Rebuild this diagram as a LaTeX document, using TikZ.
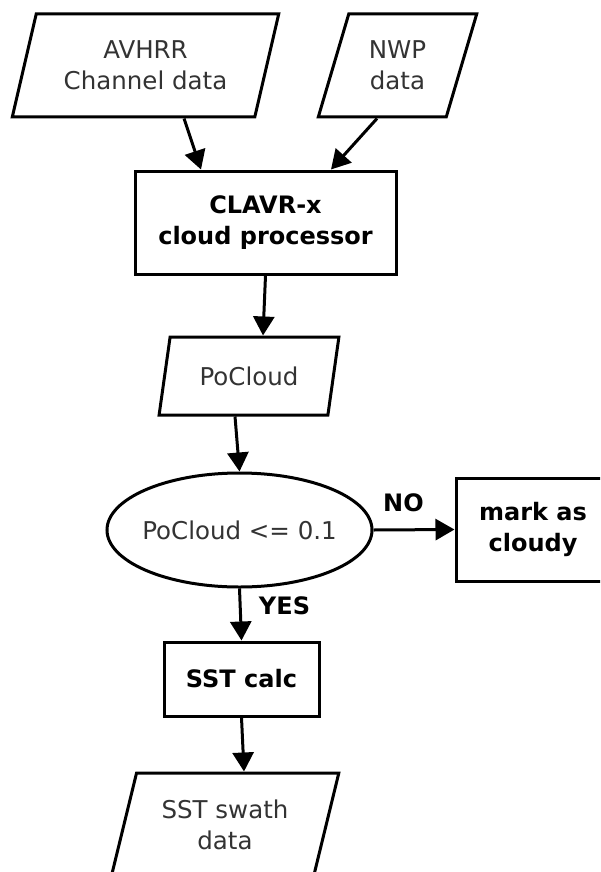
\documentclass[tikz,border=0pt]{standalone}
\usepackage{fontspec}
\setmainfont{DejaVu Sans}
\usetikzlibrary{shapes.geometric,arrows.meta}
\begin{document}
\begin{tikzpicture}[x=1pt,y=-1pt,
  every node/.style={font=\fontsize{24.5}{31}\selectfont},
  ln/.style={line width=3pt},
  datanode/.style={ln,draw,shape=trapezium,trapezium left angle=70,trapezium right angle=110,
    trapezium stretches=true,inner sep=0pt,align=center,text=black!80},
  procnode/.style={ln,draw,rectangle,inner sep=0pt,align=center,font=\fontsize{24}{31}\selectfont\bfseries},
  decnode/.style={ln,draw,ellipse,inner ysep=0pt,inner xsep=-5pt,text=black!80},
  arr/.style={ln,-{Triangle[length=19pt,width=21pt]}},
  lbl/.style={font=\fontsize{24}{28}\selectfont\bfseries}]
\useasboundingbox (0,0) rectangle (600,872);
\clip (0,0) rectangle (600,872);

% input data
\node[datanode,minimum width=267pt,minimum height=103pt] (avhrr) at (145.5,65.5) {AVHRR\\Channel data};
\node[datanode,minimum width=159pt,minimum height=103pt] (nwp) at (397.5,65.5) {NWP\\data};

% cloud processing
\node[procnode,minimum width=261pt,minimum height=103pt] (clavr) at (265.5,222.5) {CLAVR-x\\cloud processor};
\node[datanode,minimum width=180pt,minimum height=78pt] (pocloud) at (249,376) {PoCloud};

% decision
\node[decnode,minimum width=265pt,minimum height=114pt] (test) at (239.5,530) {PoCloud <= 0.1};
\node[procnode,minimum width=154pt,minimum height=103pt] (cloudy) at (533,529.5) {mark as\\cloudy};

% SST branch
\node[procnode,minimum width=155pt,minimum height=74pt] (sstcalc) at (241.5,679) {SST calc};
\node[datanode,minimum width=228pt,minimum height=104pt] (swath) at (225,825) {SST swath\\data};

% connectors
\draw[arr] ([xshift=38.5pt]avhrr.south) -- ([xshift=-64.5pt]clavr.north);
\draw[arr] ([xshift=-20.5pt]nwp.south) -- ([xshift=65.5pt]clavr.north);
\draw[arr] (clavr.south) -- ([xshift=14pt]pocloud.north);
\draw[arr] ([xshift=-14pt]pocloud.south) -- (test.north);
\draw[arr] (test.east) -- node[lbl,pos=0.37,above=13pt] (no) {NO} (cloudy.west);
\draw[arr] (test.south) -- node[lbl,pos=0.33,right=14pt] (yes) {YES} (sstcalc.north);
\draw[arr] (sstcalc.south) -- ([xshift=19pt]swath.north);
\end{tikzpicture}
\end{document}
